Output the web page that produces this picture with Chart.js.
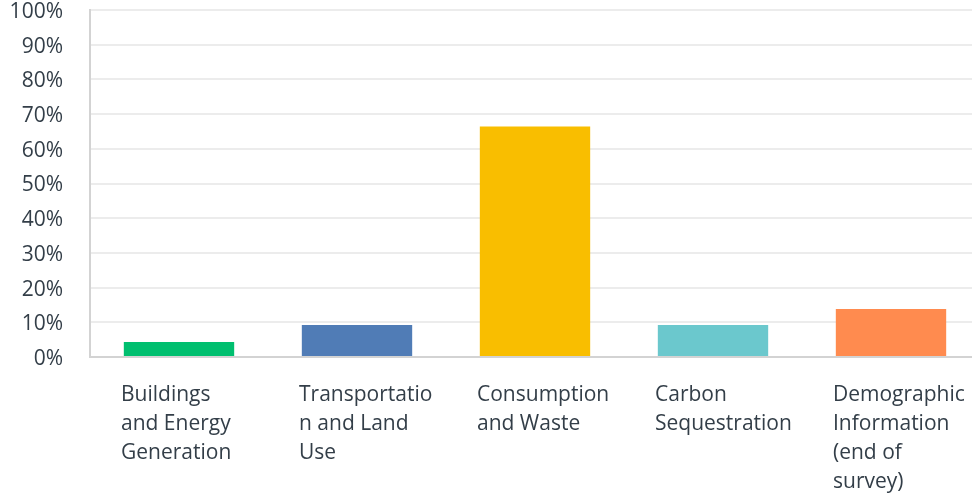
<!DOCTYPE html>
<html>
<head>
<meta charset="utf-8">
<script src="https://cdn.jsdelivr.net/npm/chart.js@4/dist/chart.umd.min.js"></script>
<style>
  html, body { margin: 0; padding: 0; background: #fff; overflow: hidden; }
  #wrap { width: 980px; height: 496px; }
</style>
</head>
<body>
<div id="wrap"><canvas id="c" width="980" height="496"></canvas></div>
<script>
const categories = [
  ["Buildings", "and Energy", "Generation"],
  ["Transportatio", "n and Land", "Use"],
  ["Consumption", "and Waste"],
  ["Carbon", "Sequestration"],
  ["Demographic", "Information", "(end of", "survey)"]
];
const responsePercent = [4.3, 9.2, 66.4, 9.2, 13.8];
const barColors = ["#00bf6f", "#507cb6", "#f9be00", "#6bc8cd", "#ff8b4f"];
const yTickValues = [0, 10, 20, 30, 40, 50, 60, 70, 80, 90, 100];

const textColor = "#333e48";
const fontFamily = "'Open Sans', sans-serif";

function zeroPad(s) {
  s.paddingTop = 0; s.paddingBottom = 0; s.paddingLeft = 0; s.paddingRight = 0;
}

new Chart(document.getElementById("c"), {
  type: "bar",
  data: {
    labels: categories,
    datasets: [{
      data: responsePercent,
      backgroundColor: barColors,
      borderWidth: 0,
      barPercentage: 0.62,
      categoryPercentage: 1.0
    }]
  },
  options: {
    responsive: false,
    animation: false,
    layout: { padding: { top: 10, right: 0, left: 0, bottom: 0 } },
    plugins: { legend: { display: false }, tooltip: { enabled: false } },
    scales: {
      x: {
        grid: { display: false, drawTicks: false },
        border: { color: "#d3d3d3", width: 2 },
        ticks: {
          color: textColor,
          font: { family: fontFamily, size: 21, lineHeight: 1.38 },
          align: "start",
          labelOffset: -58,
          padding: 24,
          maxRotation: 0,
          autoSkip: false
        },
        afterFit: (s) => { s.height = 139; zeroPad(s); }
      },
      y: {
        min: 0,
        max: 100,
        afterBuildTicks: (s) => { s.ticks = yTickValues.map(v => ({ value: v })); },
        grid: { color: "#ececec", lineWidth: 2, drawTicks: false },
        border: { color: "#d3d3d3", width: 2 },
        ticks: {
          color: textColor,
          font: { family: fontFamily, size: 21, lineHeight: 1.0 },
          padding: 27,
          labelOffset: 2,
          callback: (v) => v + "%"
        },
        afterFit: (s) => { s.width = 90; zeroPad(s); }
      }
    }
  }
});
</script>
</body>
</html>
